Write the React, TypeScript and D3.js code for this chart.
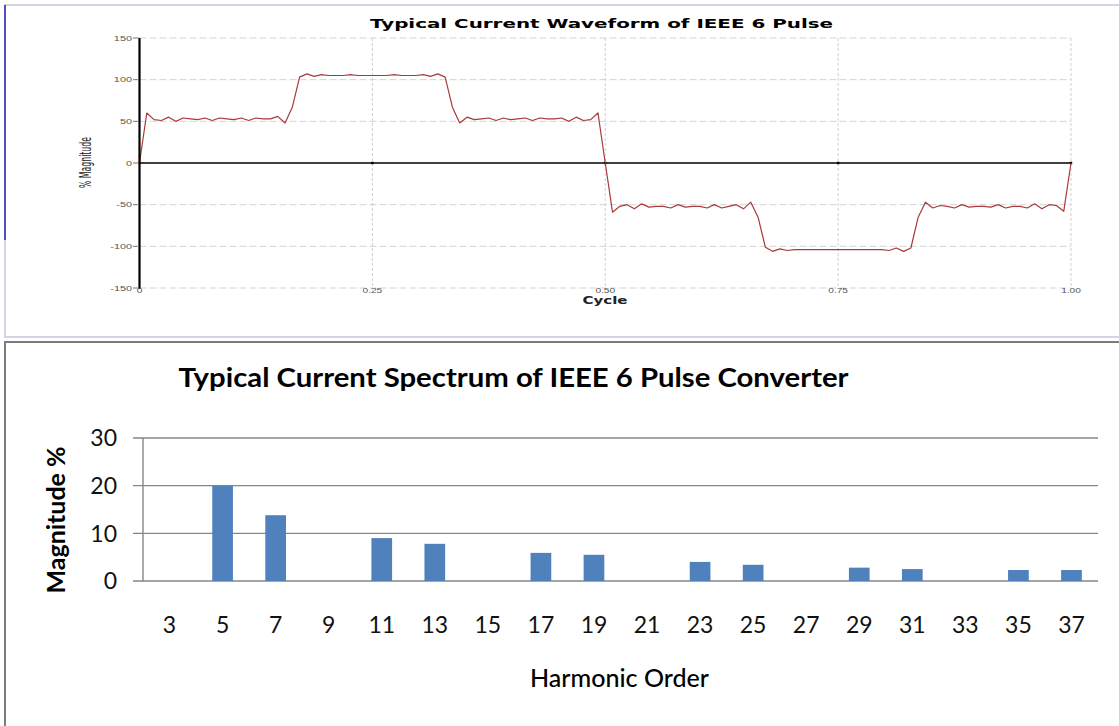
import React from "react";
import * as d3 from "d3";

// Waveform samples, 128 per cycle (% magnitude)
const waveCurrent = [
  0, 60, 52, 51, 55, 50, 54, 53, 52, 54, 51, 54, 53, 52, 54, 51, 54, 53, 53, 56, 48,
  67, 103, 107, 104, 106, 105, 105, 105, 106, 105, 105, 105, 105, 105, 106, 105, 105, 105, 106, 104, 107, 103,
  67, 48, 55, 52, 53, 54, 51, 54, 52, 53, 54, 51, 54, 53, 53, 54, 50, 55, 51, 52, 60,
  0,
  -59, -52, -50, -55, -49, -53, -52, -52, -54, -50, -53, -52, -52, -54, -50, -54, -52, -50, -55, -47,
  -65, -101, -106, -103, -105, -104, -104, -104, -104, -104, -104, -104, -104, -104, -104, -104, -104, -104, -105, -102, -106, -102,
  -65, -47, -54, -51, -52, -54, -50, -53, -52, -52, -53, -50, -54, -52, -52, -54, -49, -55, -50, -51, -58,
  0,
];
const waveYTicks = [150, 100, 50, 0, -50, -100, -150];
const waveYTickLabels = ["150", "100", "50", "0", "-50", "-100", "-150"];
const waveXTicks = [0, 0.25, 0.5, 0.75, 1];
const waveXTickLabels = ["0", "0.25", "0.50", "0.75", "1.00"];

const harmonicOrders = ["3", "5", "7", "9", "11", "13", "15", "17", "19", "21", "23", "25", "27", "29", "31", "33", "35", "37"];
const harmonicMagnitudes = [0, 20, 13.8, 0, 9, 7.8, 0, 5.9, 5.5, 0, 4, 3.4, 0, 2.8, 2.5, 0, 2.3, 2.3];
const spectrumYTicks = [0, 10, 20, 30];

export default function App() {
  // top: waveform
  const xW = d3.scaleLinear().domain([0, 1]).range([139.5, 1071]);
  const yW = d3.scaleLinear().domain([-150, 150]).range([288, 38]);
  const line = d3
    .line<number>()
    .x((_, i) => xW(i / (waveCurrent.length - 1)))
    .y((d) => yW(d));

  // bottom: spectrum
  const xS = d3.scaleBand<string>().domain(harmonicOrders).range([143, 1098]).paddingInner(0.61).paddingOuter(0.305);
  const yS = d3.scaleLinear().domain([0, 30]).range([581, 438]);

  const small = { fontFamily: "'Liberation Sans', Arial, sans-serif", fontSize: 7.5, fill: "#555" };
  const calibri = "Lato, 'Open Sans', sans-serif";

  return (
    <svg width={1119} height={726} style={{ position: "absolute", left: 0, top: 0, background: "#fff" }}>
      {/* panel borders */}
      <rect x={5} y={5} width={1130} height={332} fill="none" stroke="#c6c6dc" strokeWidth={1.5} />
      <line x1={5} x2={5} y1={5} y2={240} stroke="#2323b0" strokeWidth={1.5} />
      <rect x={5} y={342} width={1130} height={400} fill="none" stroke="#7c7c7c" strokeWidth={2} />

      {/* waveform chart */}
      <text x={370} y={28} textLength={463} lengthAdjust="spacingAndGlyphs"
        style={{ fontFamily: "'DejaVu Sans', Verdana, sans-serif", fontWeight: 700, fontSize: 12.5, fill: "#000" }}>
        Typical Current Waveform of IEEE 6 Pulse
      </text>

      {waveYTicks.filter((t) => t !== 0).map((t) => (
        <line key={"hg" + t} x1={xW(0)} x2={xW(1)} y1={yW(t)} y2={yW(t)} stroke="#d4d4d4" strokeWidth={1} strokeDasharray="7,3" />
      ))}
      {waveXTicks.filter((t) => t !== 0).map((t) => (
        <line key={"vg" + t} x1={xW(t)} x2={xW(t)} y1={yW(150)} y2={yW(-150)} stroke="#cfcfcf" strokeWidth={1} strokeDasharray="3,2" />
      ))}
      <line x1={xW(0)} x2={xW(1)} y1={yW(0)} y2={yW(0)} stroke="#000" strokeWidth={1.4} />
      {waveXTicks.map((t) => (
        <rect key={"dot" + t} x={xW(t) - 1.2} y={yW(0) - 1.2} width={2.4} height={2.4} fill="#000" />
      ))}

      <path d={line(waveCurrent) ?? ""} fill="none" stroke="#a83a3a" strokeWidth={1.2} strokeLinejoin="round" />

      <line x1={xW(0)} x2={xW(0)} y1={yW(150)} y2={yW(-150) + 1} stroke="#000" strokeWidth={2.2} />
      {waveYTicks.map((t, i) => (
        <g key={"yt" + t}>
          <line x1={133} x2={139} y1={yW(t)} y2={yW(t)} stroke="#777" strokeWidth={1} />
          <text transform={`translate(132,${yW(t) + 2.5}) scale(1.45,1)`} textAnchor="end" style={small}>
            {waveYTickLabels[i]}
          </text>
        </g>
      ))}
      {waveXTicks.map((t, i) => (
        <text key={"xt" + t} transform={`translate(${xW(t)},${293}) scale(1.45,1)`} textAnchor="middle" style={{ ...small, fontSize: 7 }}>
          {waveXTickLabels[i]}
        </text>
      ))}
      <text x={605} y={304} textAnchor="middle" textLength={45} lengthAdjust="spacingAndGlyphs"
        style={{ fontFamily: "'DejaVu Sans', Verdana, sans-serif", fontWeight: 700, fontSize: 10, fill: "#222" }}>
        Cycle
      </text>
      <text transform="translate(91,162.5) scale(1.5,1) rotate(-90)" textAnchor="middle" textLength={51} lengthAdjust="spacingAndGlyphs"
        style={{ fontFamily: "'Liberation Sans Narrow', 'DejaVu Sans Condensed', Arial, sans-serif", fontSize: 10, fill: "#222" }}>
        % Magnitude
      </text>

      {/* spectrum chart */}
      <text x={178.5} y={387} textLength={670} lengthAdjust="spacingAndGlyphs"
        style={{ fontFamily: calibri, fontWeight: 700, fontSize: 26, fill: "#000" }}>
        Typical Current Spectrum of IEEE 6 Pulse Converter
      </text>

      {spectrumYTicks.map((t) => (
        <g key={"st" + t}>
          <line x1={133} x2={1098} y1={yS(t)} y2={yS(t)} stroke="#868686" strokeWidth={1.4} />
          <text x={117} y={yS(t)} dy="0.36em" textAnchor="end" style={{ fontFamily: calibri, fontSize: 23, fill: "#111" }}>
            {t}
          </text>
        </g>
      ))}
      <line x1={143} x2={143} y1={yS(30)} y2={yS(0)} stroke="#868686" strokeWidth={1.4} />

      {harmonicOrders.map((h, i) => (
        <rect key={"bar" + h} x={xS(h)} y={yS(harmonicMagnitudes[i])} width={xS.bandwidth()}
          height={yS(0) - yS(harmonicMagnitudes[i])} fill="#4f81bd" />
      ))}
      {harmonicOrders.map((h) => (
        <text key={"xl" + h} x={(xS(h) ?? 0) + xS.bandwidth() / 2} y={633} textAnchor="middle"
          style={{ fontFamily: calibri, fontSize: 23, fill: "#111" }}>
          {h}
        </text>
      ))}
      <text x={619.5} y={687} textAnchor="middle" textLength={179} lengthAdjust="spacingAndGlyphs"
        style={{ fontFamily: calibri, fontWeight: 500, fontSize: 24, fill: "#000" }}>
        Harmonic Order
      </text>
      <text transform="translate(65,520) rotate(-90)" textAnchor="middle" textLength={147} lengthAdjust="spacingAndGlyphs"
        style={{ fontFamily: calibri, fontWeight: 700, fontSize: 24, fill: "#000" }}>
        Magnitude %
      </text>
    </svg>
  );
}
